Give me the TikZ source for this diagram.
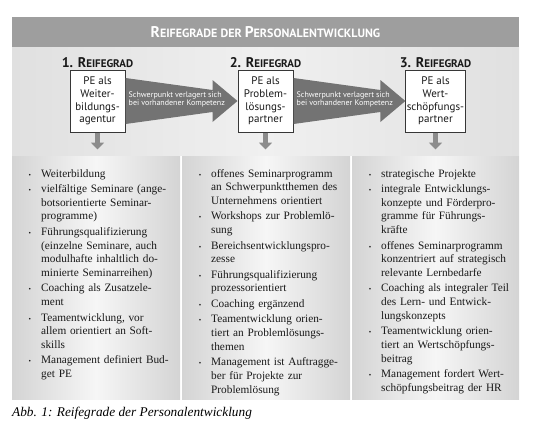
\documentclass[tikz,border=0pt]{standalone}
\usepackage{fontspec}
\setmainfont{Liberation Serif}
\setsansfont{PT Sans}
\usepackage{enumitem}
\usepackage{tikz}
\usetikzlibrary{arrows.meta, positioning}
\definecolor{rgbar}{RGB}{158,158,158}
\definecolor{rgpanel}{RGB}{224,224,224}
\definecolor{rglight}{RGB}{240,240,240}
\definecolor{rgside}{RGB}{212,212,212}
\definecolor{rgmid}{RGB}{246,246,246}
\definecolor{rgarrow}{RGB}{115,115,115}
\definecolor{rgstem}{RGB}{140,140,140}
\definecolor{rgborder}{RGB}{55,55,55}
\definecolor{rgtext}{RGB}{25,25,25}
\newcommand{\initcap}[2]{{\fontsize{#1}{#1}\selectfont #2}}

\begin{document}
\begin{tikzpicture}[
    x=1pt,
    y=-1pt,
    font=\fontsize{11.3}{13.8}\selectfont,
    title/.style={font=\sffamily\bfseries\fontsize{12}{14}\selectfont, text=white, inner sep=0pt},
    level/.style={font=\sffamily\bfseries\fontsize{11}{13}\selectfont, text=rgtext, inner sep=0pt},
    pebox/.style={draw=rgborder, line width=1pt, fill=white, align=center, font=\sffamily\fontsize{11}{12.8}\selectfont, text=rgtext, minimum width=55pt, minimum height=62pt, inner sep=1pt},
    shiftarrow/.style={fill=rgarrow},
    shifttext/.style={font=\sffamily\fontsize{8}{8.6}\selectfont, text=white, align=left, inner sep=0pt},
    downarrow/.style={draw=rgstem, line width=5pt, -{Triangle[width=13pt, length=7pt]}},
    items/.style={text width=165pt, inner sep=0pt, anchor=north west, text=rgtext},
    colshade/.style={left color=rgside, right color=rgside, middle color=rgmid},
    topshade/.style={left color=rgpanel, right color=rgpanel, middle color=rglight}
]
\useasboundingbox (0,0) rectangle (538,426);
% panel
\fill[rgbar] (12,17) rectangle (519,47);
\shade[topshade] (12,47) rectangle (519,155);
\shade[colshade] (12,156) rectangle (180,399);
\shade[colshade] (182,156) rectangle (350,399);
\shade[colshade] (352,156) rectangle (519,399);
\node[title] (title) at (265.5,32) {\initcap{15.5}{R}EIFEGRADE DER \initcap{15.5}{P}ERSONALENTWICKLUNG};
% levels
\node[level] (lvl1) at (97.5,63) {\initcap{14}{1. R}EIFEGRAD};
\node[level] (lvl2) at (265.5,63) {\initcap{14}{2. R}EIFEGRAD};
\node[level] (lvl3) at (435.5,63) {\initcap{14}{3. R}EIFEGRAD};
\node[pebox] (pe1) at (97.5,101) {PE als\\Weiter-\\bildungs-\\agentur};
\node[pebox] (pe2) at (265.5,101) {PE als\\Problem-\\lösungs-\\partner};
\node[pebox] (pe3) at (435.5,101) {PE als\\Wert-\\schöpfungs-\\partner};
% shift arrows
\fill[shiftarrow] ([yshift=23pt]pe1.east) -- ([xshift=-25pt,yshift=11pt]pe2.west) -- ([xshift=-25pt,yshift=21pt]pe2.west) -- (pe2.west) -- ([xshift=-25pt,yshift=-21pt]pe2.west) -- ([xshift=-25pt,yshift=-11pt]pe2.west) -- ([yshift=-23pt]pe1.east) -- cycle;
\fill[shiftarrow] ([yshift=23pt]pe2.east) -- ([xshift=-25pt,yshift=11pt]pe3.west) -- ([xshift=-25pt,yshift=21pt]pe3.west) -- (pe3.west) -- ([xshift=-25pt,yshift=-21pt]pe3.west) -- ([xshift=-25pt,yshift=-11pt]pe3.west) -- ([yshift=-23pt]pe2.east) -- cycle;
\node[shifttext, anchor=west] (shift1) at ([xshift=3pt,yshift=1.5pt]pe1.east) {Schwerpunkt verlagert sich\\bei vorhandener Kompetenz};
\node[shifttext, anchor=west] (shift2) at ([xshift=3pt,yshift=1.5pt]pe2.east) {Schwerpunkt verlagert sich\\bei vorhandener Kompetenz};
% down arrows
\coordinate (tip1) at ([yshift=-17pt]pe1.south);
\coordinate (tip2) at ([yshift=-17pt]pe2.south);
\coordinate (tip3) at ([yshift=-17pt]pe3.south);
\draw[downarrow] (pe1.south) -- (tip1);
\draw[downarrow] (pe2.south) -- (tip2);
\draw[downarrow] (pe3.south) -- (tip3);
% lists
\node[items] (list1) at (28,163) {\raggedright
\begin{itemize}[nosep, itemsep=1.5pt, leftmargin=13pt, labelsep=10pt, label={\scriptsize\textbullet}]
\item Weiterbildung
\item vielfältige Seminare (ange-\\botsorientierte Seminar-\\programme)
\item Führungsqualifizierung\\(einzelne Seminare, auch\\modulhafte inhaltlich do-\\minierte Seminarreihen)
\item Coaching als Zusatzele-\\ment
\item Teamentwicklung, vor\\allem orientiert an Soft-\\skills
\item Management definiert Bud-\\get PE
\end{itemize}};
\node[items] (list2) at (198,163) {\raggedright
\begin{itemize}[nosep, itemsep=1.5pt, leftmargin=13pt, labelsep=10pt, label={\scriptsize\textbullet}]
\item offenes Seminarprogramm\\an Schwerpunktthemen des\\Unternehmens orientiert
\item Workshops zur Problemlö-\\sung
\item Bereichsentwicklungspro-\\zesse
\item Führungsqualifizierung\\prozessorientiert
\item Coaching ergänzend
\item Teamentwicklung orien-\\tiert an Problemlösungs-\\themen
\item Management ist Auftragge-\\ber für Projekte zur\\Problemlösung
\end{itemize}};
\node[items] (list3) at (368,163) {\raggedright
\begin{itemize}[nosep, itemsep=1.5pt, leftmargin=13pt, labelsep=10pt, label={\scriptsize\textbullet}]
\item strategische Projekte
\item integrale Entwicklungs-\\konzepte und Förderpro-\\gramme für Führungs-\\kräfte
\item offenes Seminarprogramm\\konzentriert auf strategisch\\relevante Lernbedarfe
\item Coaching als integraler Teil\\des Lern- und Entwick-\\lungskonzepts
\item Teamentwicklung orien-\\tiert an Wertschöpfungs-\\beitrag
\item Management fordert Wert-\\schöpfungsbeitrag der HR
\end{itemize}};
% caption
\node[anchor=base west, font=\itshape\fontsize{13.3}{15}\selectfont, inner sep=0pt] (caption) at (12,416) {Abb. 1: Reifegrade der Personalentwicklung};
\end{tikzpicture}
\end{document}
